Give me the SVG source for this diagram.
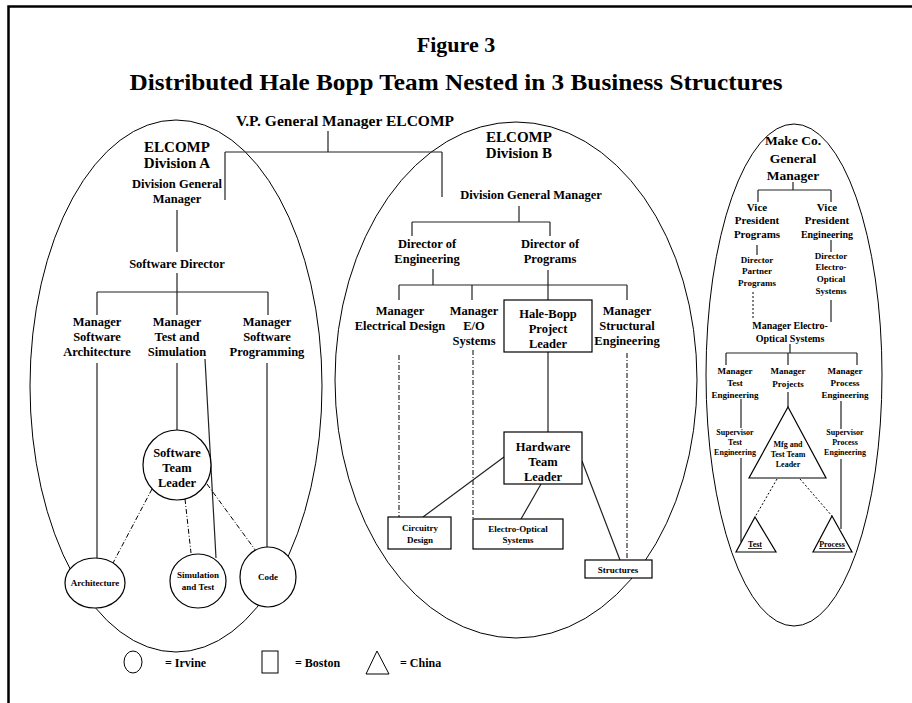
<svg xmlns="http://www.w3.org/2000/svg" width="912" height="703" viewBox="0 0 912 703">
<style>
text{font-family:"Liberation Serif","Times New Roman",serif;font-weight:bold;text-anchor:middle;fill:#000}
.ln{stroke:#222;stroke-width:1.2;fill:none}
.sh{stroke:#000;stroke-width:1;fill:none}
.dd{stroke:#000;stroke-width:1;fill:none;stroke-dasharray:5 2 1 2}
.dt{stroke:#000;stroke-width:1;fill:none;stroke-dasharray:2 2}
.nd{stroke:#000;stroke-width:1.2;fill:#fff}
.f15{font-size:15px}.f13{font-size:13.5px}.f12{font-size:12.5px}.f11{font-size:11px}.f10{font-size:10px}.f9{font-size:9px}.f8{font-size:8px}
</style>
<rect width="912" height="703" fill="#fff"/>
<path d="M8.5,703 V6.5 H912" stroke="#000" stroke-width="2.5" fill="none"/>
<text x="456" y="52" style="font-size:22px">Figure 3</text>
<text x="456" y="90" style="font-size:23.5px" textLength="653" lengthAdjust="spacingAndGlyphs">Distributed Hale Bopp Team Nested in 3 Business Structures</text>

<g id="boundaries">
<ellipse cx="176" cy="386" rx="146" ry="266" class="sh"/>
<ellipse cx="516" cy="380" rx="181" ry="258" class="sh"/>
<ellipse cx="794" cy="375" rx="88" ry="251" class="sh"/>
</g>

<g id="connectors">
<path class="ln" d="M328,131 V152 M225,152 H442 M225,152 V200 M442,152 V197"/>
<path class="ln" d="M177,210 V252 M177,273 V292 M97,292 H268 M97,292 V315 M177,292 V315 M268,292 V315"/>
<path class="ln" d="M97,363 V558 M177,363 V430 M205,359 L216,558 M267,363 V547"/>
<path class="dd" d="M152,489 L113,563 M185,499 L191,553 M207,484 L256,551"/>
<path class="ln" d="M519,206 V222 M412,222 H550 M412,222 V236 M550,222 V236"/>
<path class="ln" d="M433,269 V285 M399,285 H627 M399,285 V300 M472,285 V300 M627,285 V300 M548,270 V300"/>
<path class="dd" d="M399,355 V517 M473,350 V519 M627,353 V560"/>
<path class="ln" d="M548,352 V432 M504,457 L423,517 M541,484 L521,519 M582,461 L620,560"/>
<path class="ln" d="M793,182 V190 M758,190 H831 M758,190 V202 M831,190 V202 M757,245 V255 M831,240 V252 M831,300 V322 M790,344 V353 M726,353 H857 M726,353 V365 M788,353 V365 M857,353 V365"/>
<path class="dt" d="M753,292 V318"/>
<path class="ln" d="M741,399 V428 M741,458 V542 M788,392 V407 M841,401 V429 M841,459 V529"/>
<path class="dt" d="M777,479 L755,517 M800,479 L832,516"/>
</g>

<g id="vp"><text x="345" y="126" style="font-size:15.5px">V.P. General Manager ELCOMP</text></g>

<g id="divA-title"><text x="177" y="152" class="f15">ELCOMP</text><text x="177" y="168" class="f15">Division A</text></g>
<g id="divA-dgm"><text x="177" y="188" class="f12">Division General</text><text x="177" y="203" class="f12">Manager</text></g>
<g id="divA-sd"><text x="177" y="268" class="f12">Software Director</text></g>
<g id="divA-arch"><text x="97" y="326" class="f12">Manager</text><text x="97" y="341" class="f12">Software</text><text x="97" y="356" class="f12">Architecture</text></g>
<g id="divA-test"><text x="177" y="326" class="f12">Manager</text><text x="177" y="341" class="f12">Test and</text><text x="177" y="356" class="f12">Simulation</text></g>
<g id="divA-prog"><text x="267" y="326" class="f12">Manager</text><text x="267" y="341" class="f12">Software</text><text x="267" y="356" class="f12">Programming</text></g>
<g id="divA-stl"><ellipse cx="177" cy="465" rx="34" ry="35" class="nd"/><text x="177" y="457" class="f12">Software</text><text x="177" y="472" class="f12">Team</text><text x="177" y="487" class="f12">Leader</text></g>
<g id="divA-archnode"><ellipse cx="95" cy="583" rx="30" ry="25" class="nd"/><text x="95" y="586" class="f9">Architecture</text></g>
<g id="divA-simnode"><ellipse cx="198" cy="581" rx="28" ry="27" class="nd"/><text x="198" y="578" class="f9">Simulation</text><text x="198" y="590" class="f9">and Test</text></g>
<g id="divA-codenode"><ellipse cx="268" cy="577" rx="28" ry="30" class="nd"/><text x="268" y="580" class="f9">Code</text></g>

<g id="divB-title"><text x="519" y="142" class="f15">ELCOMP</text><text x="519" y="158" class="f15">Division B</text></g>
<g id="divB-dgm"><text x="531" y="199" class="f12">Division General Manager</text></g>
<g id="divB-doe"><text x="427" y="248" class="f12">Director of</text><text x="427" y="263" class="f12">Engineering</text></g>
<g id="divB-dop"><text x="550" y="248" class="f12">Director of</text><text x="550" y="263" class="f12">Programs</text></g>
<g id="divB-med"><text x="400" y="315" class="f12">Manager</text><text x="400" y="330" class="f12">Electrical Design</text></g>
<g id="divB-meo"><text x="474" y="315" class="f12">Manager</text><text x="474" y="330" class="f12">E/O</text><text x="474" y="345" class="f12">Systems</text></g>
<g id="divB-hbpl"><rect x="504" y="300" width="88" height="52" class="nd"/><text x="548" y="318" class="f12">Hale-Bopp</text><text x="548" y="333" class="f12">Project</text><text x="548" y="348" class="f12">Leader</text></g>
<g id="divB-mse"><text x="627" y="315" class="f12">Manager</text><text x="627" y="330" class="f12">Structural</text><text x="627" y="345" class="f12">Engineering</text></g>
<g id="divB-htl"><rect x="504" y="432" width="78" height="52" class="nd"/><text x="543" y="451" class="f12">Hardware</text><text x="543" y="466" class="f12">Team</text><text x="543" y="481" class="f12">Leader</text></g>
<g id="divB-circ"><rect x="388" y="517" width="63" height="32" class="nd"/><text x="420" y="531" class="f9">Circuitry</text><text x="420" y="543" class="f9">Design</text></g>
<g id="divB-eo"><rect x="473" y="519" width="90" height="30" class="nd"/><text x="518" y="532" class="f9">Electro-Optical</text><text x="518" y="543" class="f9">Systems</text></g>
<g id="divB-str"><rect x="585" y="560" width="67" height="18" class="nd"/><text x="618" y="573" class="f9">Structures</text></g>

<g id="mk-gm"><text x="793" y="145" class="f13">Make Co.</text><text x="793" y="163" class="f13">General</text><text x="793" y="180" class="f13">Manager</text></g>
<g id="mk-vpp"><text x="757" y="211" class="f11">Vice</text><text x="757" y="224" class="f11">President</text><text x="757" y="238" class="f11">Programs</text></g>
<g id="mk-vpe"><text x="827" y="211" class="f11">Vice</text><text x="827" y="224" class="f11">President</text><text x="827" y="238" class="f10">Engineering</text></g>
<g id="mk-dpp"><text x="757" y="263" class="f9">Director</text><text x="757" y="274" class="f9">Partner</text><text x="757" y="286" class="f9">Programs</text></g>
<g id="mk-deo"><text x="831" y="259" class="f9">Director</text><text x="831" y="270" class="f9">Electro-</text><text x="831" y="282" class="f9">Optical</text><text x="831" y="294" class="f9">Systems</text></g>
<g id="mk-meo"><text x="790" y="329" class="f10">Manager Electro-</text><text x="790" y="342" class="f10">Optical Systems</text></g>
<g id="mk-mte"><text x="735" y="374" class="f9">Manager</text><text x="735" y="386" class="f9">Test</text><text x="735" y="398" class="f9">Engineering</text></g>
<g id="mk-mp"><text x="788" y="374" class="f9">Manager</text><text x="788" y="387" class="f9">Projects</text></g>
<g id="mk-mpe"><text x="845" y="374" class="f9">Manager</text><text x="845" y="386" class="f9">Process</text><text x="845" y="398" class="f9">Engineering</text></g>
<g id="mk-ste"><text x="735" y="435" class="f8">Supervisor</text><text x="735" y="445" class="f8">Test</text><text x="735" y="455" class="f8">Engineering</text></g>
<g id="mk-mfg"><polygon points="788,407 826,478 749,478" class="nd"/><text x="788" y="447" class="f8">Mfg and</text><text x="788" y="457" class="f8">Test Team</text><text x="788" y="467" class="f8">Leader</text></g>
<g id="mk-spe"><text x="845" y="435" class="f8">Supervisor</text><text x="845" y="445" class="f8">Process</text><text x="845" y="455" class="f8">Engineering</text></g>
<g id="mk-test"><polygon points="755,517 776,552 736,552" class="nd"/><text x="755" y="547" class="f8" text-decoration="underline">Test</text></g>
<g id="mk-proc"><polygon points="832,516 852,552 813,552" class="nd"/><text x="832" y="547" class="f8" text-decoration="underline">Process</text></g>

<g id="legend">
<ellipse cx="133" cy="662" rx="9" ry="11" class="sh"/>
<text x="165" y="667" style="font-size:12px;text-anchor:start">= Irvine</text>
<rect x="262" y="651" width="16" height="22" class="sh"/>
<text x="295" y="667" style="font-size:12px;text-anchor:start">= Boston</text>
<polygon points="377,651 389,674 366,674" class="sh"/>
<text x="400" y="667" style="font-size:12px;text-anchor:start">= China</text>
</g>
</svg>
